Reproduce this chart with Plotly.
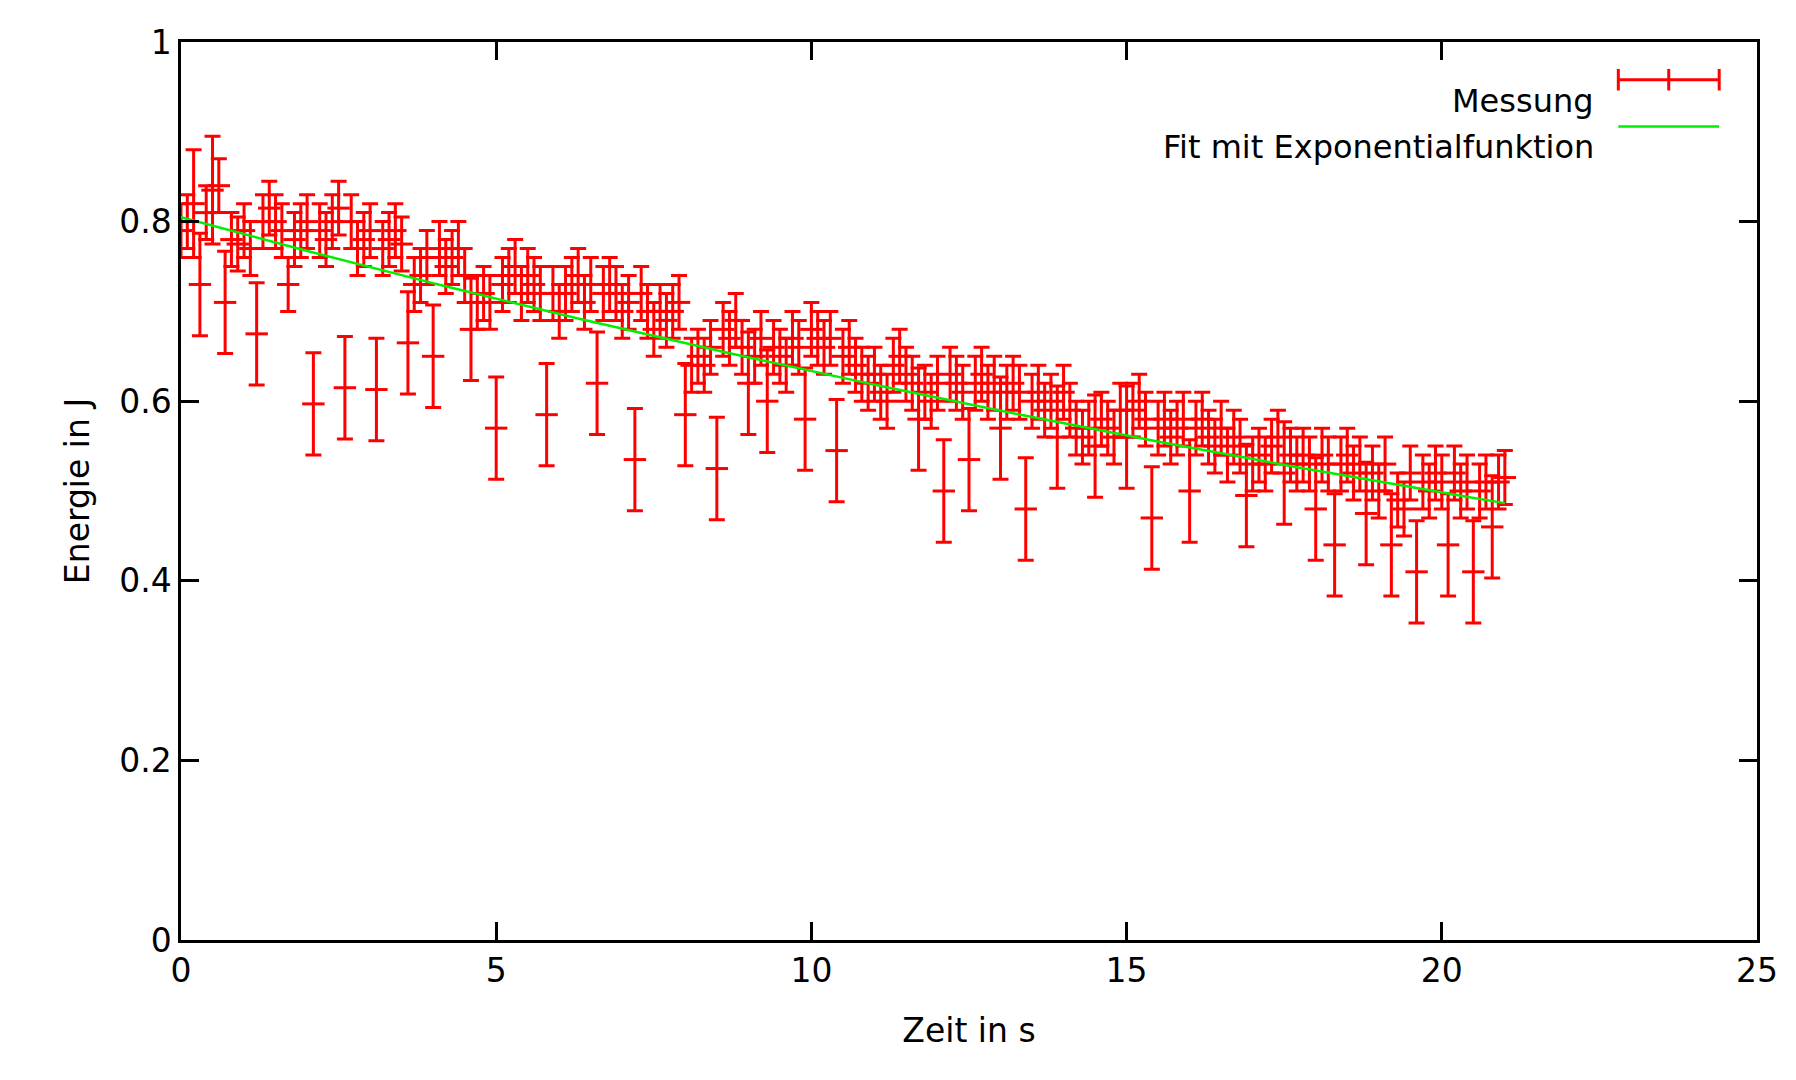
import numpy as np
import plotly.graph_objects as go

zeit = [round(i * 0.1, 1) for i in range(211)]
energie = [
    0.79,0.80,0.82,0.73,0.81,0.835,0.84,0.71,0.78,0.775,
    0.79,0.77,0.675,0.80,0.815,0.80,0.79,0.73,0.78,0.79,
    0.80,0.597,0.79,0.78,0.80,0.815,0.615,0.80,0.77,0.78,
    0.79,0.613,0.77,0.78,0.79,0.775,0.665,0.73,0.74,0.76,
    0.65,0.77,0.75,0.76,0.77,0.74,0.68,0.71,0.72,0.71,
    0.57,0.73,0.74,0.75,0.72,0.74,0.73,0.72,0.585,0.72,
    0.70,0.72,0.73,0.74,0.71,0.73,0.62,0.72,0.73,0.72,
    0.70,0.71,0.535,0.72,0.70,0.68,0.70,0.69,0.70,0.71,
    0.585,0.64,0.65,0.64,0.66,0.525,0.68,0.67,0.69,0.66,
    0.62,0.65,0.67,0.60,0.66,0.65,0.64,0.67,0.66,0.58,
    0.68,0.67,0.66,0.67,0.545,0.65,0.66,0.64,0.63,0.62,
    0.63,0.61,0.60,0.64,0.65,0.63,0.62,0.58,0.61,0.60,
    0.62,0.50,0.63,0.62,0.61,0.535,0.62,0.63,0.61,0.62,
    0.57,0.61,0.62,0.61,0.48,0.60,0.61,0.59,0.60,0.56,
    0.61,0.59,0.57,0.56,0.57,0.55,0.58,0.57,0.56,0.59,
    0.56,0.59,0.60,0.58,0.47,0.57,0.58,0.56,0.57,0.58,
    0.50,0.57,0.58,0.56,0.55,0.57,0.54,0.56,0.55,0.495,
    0.53,0.54,0.53,0.55,0.56,0.52,0.54,0.53,0.54,0.53,
    0.48,0.54,0.53,0.44,0.53,0.54,0.52,0.53,0.475,0.52,
    0.50,0.53,0.44,0.49,0.48,0.52,0.41,0.51,0.50,0.52,
    0.51,0.44,0.52,0.50,0.51,0.41,0.50,0.51,0.46,0.51,
    0.515,
]
outlier_idx = [3,7,12,21,26,31,36,40,46,50,58,66,72,80,85,90,93,99,104,
               117,121,125,130,134,139,145,150,154,160,169,175,180,183,
               188,192,196,201,205,208]
fehler = [0.057 if i in outlier_idx else (0.06 if i in (2,5) else 0.03)
          for i in range(len(zeit))]

y_ticks = [0, 0.2, 0.4, 0.6, 0.8, 1]
y_ticktext = ["0", "0.2", "0.4", "0.6", "0.8", "1"]
x_ticks = [0, 5, 10, 15, 20, 25]

fit_a, fit_tau = 0.805, 41.7
fit_t = np.linspace(0, 21, 200)
fit_e = fit_a * np.exp(-fit_t / fit_tau)

FONT = "DejaVu Sans"
fig = go.Figure()
fig.add_trace(go.Scatter(
    x=zeit, y=energie, mode="markers",
    marker=dict(symbol="line-ew", size=16, line=dict(color="#ff0000", width=3)),
    error_y=dict(type="data", array=fehler, color="#ff0000", thickness=3, width=8),
    showlegend=False))
fig.add_trace(go.Scatter(x=fit_t, y=fit_e, mode="lines",
                         line=dict(color="#00ee00", width=2.5), showlegend=False))

fig.add_annotation(xref="paper", yref="paper", x=0.898, y=0.958, xanchor="right",
                   text="Messung", showarrow=False, font=dict(size=32, family=FONT))
fig.add_annotation(xref="paper", yref="paper", x=0.898, y=0.906, xanchor="right",
                   text="Fit mit Exponentialfunktion", showarrow=False,
                   font=dict(size=32, family=FONT))
lx0, lx1, ly1, ly2 = 0.912, 0.976, 0.958, 0.906
fig.add_shape(type="line", xref="paper", yref="paper", x0=lx0, x1=lx1, y0=ly1, y1=ly1,
              line=dict(color="#ff0000", width=3))
for xx in (lx0, (lx0 + lx1) / 2, lx1):
    fig.add_shape(type="line", xref="paper", yref="paper", x0=xx, x1=xx,
                  y0=ly1 - 0.012, y1=ly1 + 0.012, line=dict(color="#ff0000", width=3))
fig.add_shape(type="line", xref="paper", yref="paper", x0=lx0, x1=lx1, y0=ly2, y1=ly2,
              line=dict(color="#00ee00", width=2.5))

axis = dict(showgrid=False, zeroline=False, showline=True, linecolor="black", linewidth=2.5,
            mirror="ticks", ticks="inside", ticklen=18, tickwidth=2.5, tickcolor="black",
            automargin=False, tickfont=dict(size=33, family=FONT, color="black"))
fig.update_xaxes(range=[0, 25], tickvals=x_ticks,
                 title=dict(text="Zeit in s", font=dict(size=33, family=FONT), standoff=30),
                 **axis)
fig.update_yaxes(range=[0, 1], tickvals=y_ticks, ticktext=y_ticktext,
                 title=dict(text="Energie in J", font=dict(size=33, family=FONT), standoff=20),
                 **axis)
fig.update_layout(width=1796, height=1080, plot_bgcolor="white", paper_bgcolor="white",
                  margin=dict(l=173, r=47, t=34, b=148), font=dict(family=FONT, color="black"))
fig.write_html("out.html")
